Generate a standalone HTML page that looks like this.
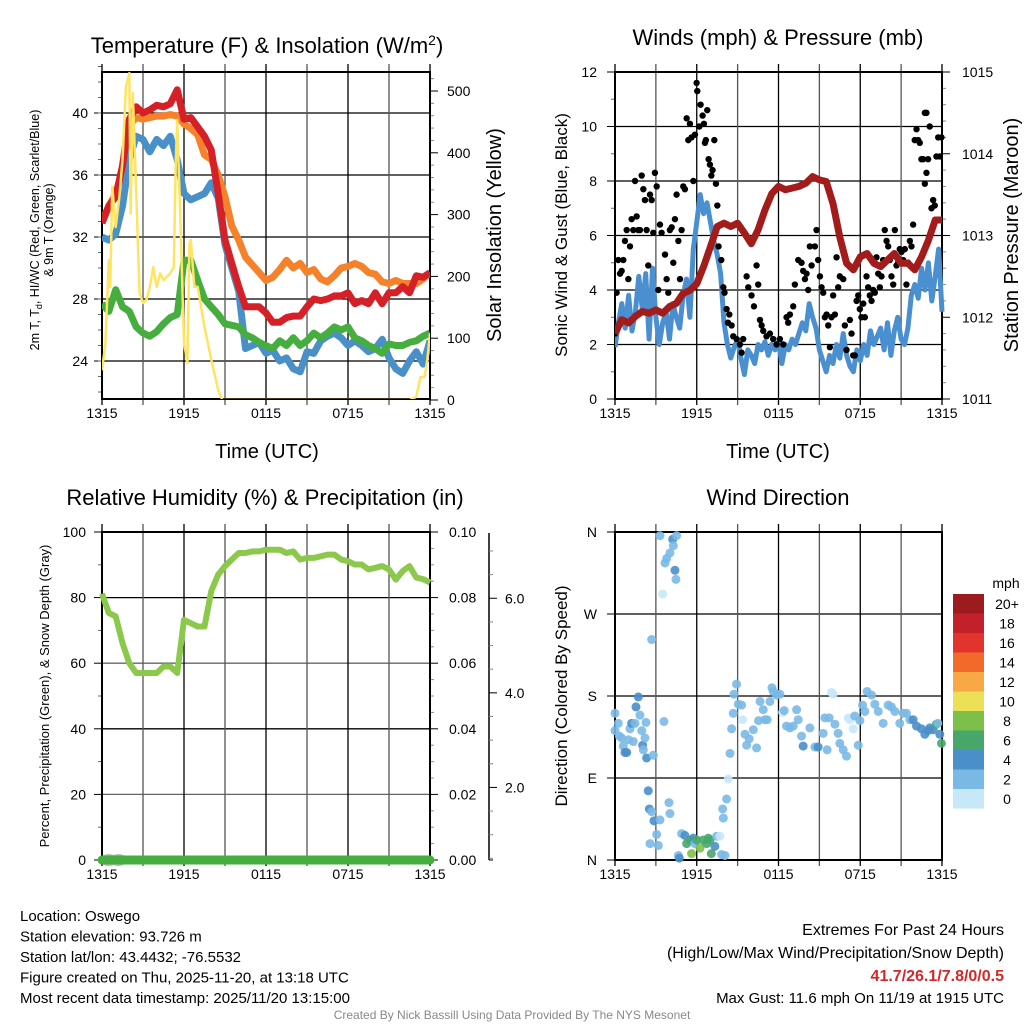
<!DOCTYPE html>
<html><head><meta charset="utf-8"><style>
body{margin:0;background:#fff;}
svg{display:block;font-family:"Liberation Sans",sans-serif;}
</style></head><body>
<svg id="c" width="1024" height="1024" viewBox="0 0 1024 1024" xmlns="http://www.w3.org/2000/svg"></svg>
<script>
// ---------- DATA ----------
const hrsHalf = Array.from({length:49},(_,i)=>i*0.5);
const hrsQuarter = Array.from({length:97},(_,i)=>i*0.25);
const xTickLabels = ["1315","1915","0115","0715","1315"];
// Panel 1 temperatures (F), half-hourly
const tempRed = [32.9,34.0,34.6,36.6,39.6,40.4,40.0,40.2,40.5,40.4,40.6,41.5,39.6,39.7,39.1,38.5,37.6,34.8,31.8,30.3,28.8,27.5,27.5,27.5,27.1,26.5,26.5,26.8,26.9,26.9,27.5,28.0,27.9,28.0,28.2,28.2,28.4,27.7,27.9,27.7,28.4,27.7,28.4,28.4,28.8,28.4,29.5,29.4,29.7];
const tempOrange = [33.0,34.0,34.8,36.3,39.2,39.7,39.6,39.7,39.8,39.8,39.9,39.8,39.3,39.0,38.6,37.3,37.0,36.0,34.6,32.7,31.8,30.7,30.2,29.7,29.2,29.4,29.9,30.5,30.0,30.3,29.7,29.9,29.3,29.1,29.5,30.0,30.1,30.3,30.1,29.7,29.6,29.1,29.0,29.2,29.0,29.0,29.0,29.3,29.7];
const tempBlue = [32.0,31.8,32.2,34.0,37.0,38.5,38.3,37.5,38.3,37.9,38.5,37.0,34.8,34.4,34.6,34.8,35.5,34.5,31.5,30.0,28.5,24.8,25.0,25.2,24.5,24.7,24.0,24.2,23.5,23.3,24.6,24.5,25.3,25.6,25.8,25.5,25.0,25.3,25.0,24.6,24.8,25.4,24.2,23.5,23.2,24.0,24.6,23.8,25.3];
const tempGreen = [27.7,27.2,28.6,27.5,27.2,26.2,25.8,25.6,25.9,26.4,26.8,27.0,30.5,30.5,29.2,28.0,27.5,27.0,26.4,26.3,26.2,25.7,25.5,25.2,25.0,24.8,25.3,25.0,25.5,25.0,25.3,25.8,25.5,25.8,26.2,26.0,26.2,25.5,25.3,25.0,24.8,24.5,25.1,25.0,25.0,25.2,25.3,25.6,25.8];
const solarT = [0,0.25,0.5,0.6,0.75,1,1.25,1.5,1.75,2,2.1,2.25,2.5,2.75,3,3.25,3.5,3.75,4,4.25,4.5,5,5.25,5.4,5.5,5.75,6,6.25,6.4,6.5,6.75,7,7.5,8,8.5,8.8,22.5,23,23.3,23.6,23.8,24];
const solarW = [48,92,226,183,345,280,324,388,506,529,302,497,335,173,157,162,183,215,183,205,194,205,215,388,453,280,92,60,254,259,183,183,118,65,16,0,0,5,37,37,65,108];
// Panel 2 winds (mph) quarter-hourly, pressure (mb) half-hourly
const windSonic = [1.9,2.8,3.5,2.6,3.8,2.5,3.2,4.5,3.3,4.6,2.2,4.8,3.0,2.0,2.8,3.2,2.2,3.5,3.0,2.6,3.8,4.4,3.0,5.5,6.5,7.5,6.8,7.2,6.5,5.8,5.3,4.6,2.8,2.0,1.5,1.9,2.2,1.5,0.9,1.8,1.6,1.3,2.0,1.8,2.1,1.6,2.0,1.8,2.1,1.3,2.0,1.8,2.2,2.0,2.4,2.8,2.5,3.5,3.0,2.6,1.8,1.4,1.0,1.6,1.3,2.0,1.5,2.4,1.6,1.2,1.0,1.8,1.4,2.0,1.6,2.5,2.0,2.3,2.6,1.8,2.8,1.6,2.5,3.0,2.2,2.0,2.6,3.8,4.2,3.7,4.8,4.0,5.0,3.6,4.5,5.5,3.2];
const pressure = [1011.80,1011.97,1011.93,1012.01,1012.07,1012.05,1012.09,1012.05,1012.13,1012.17,1012.29,1012.33,1012.41,1012.62,1012.86,1013.11,1013.15,1013.11,1013.15,1013.03,1012.90,1013.07,1013.31,1013.51,1013.60,1013.56,1013.58,1013.60,1013.64,1013.72,1013.68,1013.66,1013.39,1012.98,1012.66,1012.58,1012.74,1012.78,1012.66,1012.62,1012.70,1012.78,1012.66,1012.66,1012.58,1012.74,1012.94,1013.19,1013.19];
const gustT = [0,0.12,0.24,0.37,0.49,0.61,0.73,0.86,0.98,1.1,1.22,1.34,1.47,1.59,1.71,1.83,1.96,2.08,2.2,2.32,2.44,2.57,2.69,2.81,2.93,3.06,3.18,3.3,3.42,3.67,3.79,3.91,4.03,4.16,4.28,4.4,4.52,4.65,4.77,4.89,5.01,5.13,5.26,5.38,5.5,5.62,5.75,5.87,5.99,6.04,6.19,6.28,6.43,6.53,6.6,6.67,6.77,6.87,6.97,7.07,7.16,7.29,7.41,7.51,7.6,7.8,7.95,8.04,8.19,8.29,8.39,8.56,8.68,8.92,9.17,9.29,9.41,9.66,9.78,10.02,10.2,10.39,10.51,10.64,10.76,10.88,11.12,11.37,11.61,11.86,12.1,12.35,12.59,12.71,12.84,13.08,13.2,13.45,13.69,13.81,13.94,14.06,14.18,14.3,14.43,14.67,14.79,14.91,15.04,15.16,15.28,15.4,15.53,15.65,15.77,15.89,16.01,16.14,16.26,16.38,16.5,16.75,16.87,16.99,17.24,17.36,17.48,17.6,17.73,17.85,17.97,18.09,18.22,18.34,18.46,18.58,18.7,18.83,18.95,19.07,19.19,19.32,19.44,19.56,19.68,19.8,19.93,20.05,20.17,20.29,20.42,20.54,20.66,20.78,20.9,21.03,21.15,21.27,21.39,21.52,21.64,21.76,21.88,22.0,22.13,22.25,22.37,22.49,22.62,22.74,22.86,22.98,23.1,23.23,23.35,23.47,23.59,23.72,23.84,23.96,22.74,22.86];
const gustV = [2.4,3.9,5.1,4.6,4.7,5.1,5.8,6.2,4.4,5.6,6.6,6.2,8.0,6.7,6.2,6.2,8.2,7.7,7.3,6.2,4.9,7.5,7.3,6.1,8.3,7.8,4.0,6.4,6.1,5.3,4.4,3.9,6.2,6.3,5.0,6.6,7.5,5.8,4.4,6.2,7.8,7.7,10.3,9.5,10.1,9.6,8.0,9.7,11.6,11.3,10.0,10.8,10.4,10.1,9.4,9.5,10.6,8.8,8.6,8.2,8.4,9.5,7.9,7.1,5.6,5.1,4.1,3.9,3.3,2.8,3.1,2.7,2.3,2.2,2.0,1.7,2.2,4.5,4.1,3.8,3.4,4.9,4.2,2.9,2.7,2.5,2.3,2.4,2.2,2.0,2.2,2.0,3.0,2.8,3.1,3.4,4.2,5.1,5.0,4.7,4.4,4.6,4.0,5.6,4.9,5.6,6.2,5.1,4.5,4.1,3.9,3.0,3.1,2.7,1.9,3.0,3.8,3.1,5.2,4.1,4.5,4.4,2.7,1.8,2.9,2.4,1.6,1.6,3.6,3.8,3.3,3.0,3.5,3.0,4.5,4.1,3.8,3.6,4.0,3.9,5.2,4.6,4.1,4.5,5.1,6.2,5.8,5.6,5.1,4.5,4.2,6.2,4.9,5.0,5.5,5.4,5.1,5.5,4.2,5.0,5.8,5.6,6.4,9.5,9.9,9.5,9.4,8.8,8.8,7.9,8.3,8.8,10.0,7.0,7.3,7.1,8.9,9.6,8.9,9.6,10.5,10.5];
// Panel 3 RH (%) half-hourly
const relHum = [81.2,75.3,74.3,66.1,60.0,57.0,57.0,57.0,57.0,59.0,59.0,57.0,73.2,72.2,71.2,71.2,82.0,87.0,89.6,91.6,93.6,93.6,94.1,94.1,94.6,94.6,94.6,93.6,94.1,91.6,92.1,92.1,92.6,93.1,93.1,91.6,91.1,90.1,90.1,88.6,89.1,89.6,88.6,85.5,88.1,89.6,86.1,85.6,84.6];
const precipVals = [0,0,0,0,0,0,0,0,0,0,0,0,0,0,0,0,0,0,0,0,0,0,0,0,0,0,0,0,0,0,0,0,0,0,0,0,0,0,0,0,0,0,0,0,0,0,0,0,0];
const snowT = [0.5,1.2];
const snowV = [0,0];
// Panel 4 wind direction (deg) and speed (mph)
const dirT = [0,0,0.24,0.32,0.49,0.61,0.73,0.86,0.98,1.1,1.22,1.34,1.47,1.54,1.71,1.83,1.96,2.03,2.08,2.2,2.27,2.32,2.81,2.44,2.52,2.69,2.86,3.3,3.06,3.18,2.57,3.96,4.03,2.69,3.59,3.3,3.67,3.79,4.03,4.23,4.28,4.52,4.4,4.47,3.5,4.65,4.72,4.89,5.13,5.26,5.5,5.62,5.75,5.87,5.99,6.24,6.48,6.73,6.85,6.97,7.07,7.33,7.46,7.7,7.82,8.07,7.95,7.9,8.19,8.31,8.44,8.56,8.68,8.73,8.92,9.05,9.29,9.36,9.54,9.66,9.85,10.15,10.39,10.54,10.64,10.88,11.0,11.17,11.37,11.52,11.61,11.86,12.1,12.3,12.42,12.59,12.84,13.08,13.33,13.45,13.69,13.81,14.3,14.67,14.91,15.28,15.4,15.57,15.72,15.89,16.01,16.14,16.38,16.5,16.75,16.99,17.12,17.24,17.48,17.6,17.85,17.97,18.17,18.34,18.5,18.83,19.07,19.32,19.68,20.05,20.29,20.54,20.9,21.15,21.39,21.64,21.88,22.13,22.49,22.74,22.98,23.1,23.35,23.59,23.7,23.84,23.96];
const dirDeg = [161,142,150,136,134,125,118,118,132,144,150,130,150,168,179,159,142,126,121,134,151,112,115,76,56,53,43,44,28,16,18,63,51,242,152,356,326,331,337,352,345,356,318,308,292,5,2,29,27,18,22,7,24,18,22,13,22,18,24,22,7,15,26,26,6,5,46,56,67,89,117,144,161,182,193,171,170,154,138,126,133,143,123,153,174,165,154,154,174,189,185,181,182,162,164,147,145,147,165,154,136,125,145,124,124,139,156,121,156,184,182,149,139,128,121,114,156,154,144,158,126,153,170,163,185,181,171,163,150,170,168,163,150,161,161,154,154,147,144,138,142,145,143,149,150,138,128,156,146];
const dirSpd = [3,3,3,3,3,3,5,5,3,3,5,3,3,5,5,3,3,5,3,3,3,5,3,5,5,3,5,3,3,3,3,3,3,3,3,3,3,3,3,5,3,3,5,3,1,3,5,3,5,7,7,9,5,3,7,9,7,7,7,7,7,5,3,1,3,3,3,3,3,1,3,3,3,3,3,3,3,1,3,3,3,3,3,3,3,3,3,3,3,3,3,3,3,1,3,3,3,3,3,3,3,5,3,3,5,3,3,3,3,1,1,3,3,3,3,3,1,1,1,3,3,3,3,3,3,3,3,3,3,3,3,3,3,3,3,3,5,5,5,5,5,5,5,7,3,5,7,5];
const cbLabels = ["20+","18","16","14","12","10","8","6","4","2","0"];
const cbColors = ["#9b1b1e","#c2202a","#e0342c","#f26a2a","#f9a846","#ece057","#7cc04a","#47a76b","#4a8fc8","#7ab9e6","#c6e8f8"];

// ---------- HELPERS ----------
const NS="http://www.w3.org/2000/svg";
const svg=document.getElementById('c');
function mk(tag,attrs,parent){const e=document.createElementNS(NS,tag);for(const k in attrs)e.setAttribute(k,attrs[k]);(parent||svg).appendChild(e);return e;}
function txt(s,x,y,size,anchor,extra,parent){const e=mk('text',Object.assign({x:x,y:y,'font-size':size,'text-anchor':anchor||'middle',fill:'#000'},extra||{}),parent);e.textContent=s;return e;}
function lin(a,b,c,d,w,col,parent){return mk('line',{x1:a,y1:b,x2:c,y2:d,stroke:col||'#000','stroke-width':w||1},parent);}
function scale(d0,d1,r0,r1){return v=>r0+(v-d0)/(d1-d0)*(r1-r0);}
function pathD(xs,ys,fx,fy){return xs.map((t,i)=>(i?'L':'M')+fx(t).toFixed(1)+','+fy(ys[i]).toFixed(1)).join('');}
function frame(g,L,T,R,B,fx){
  for(let h=0;h<=24;h+=3){const x=fx(h);lin(x,T-8,x,B+6,1.3,h%6?'#555':'#000',g);}
  mk('rect',{x:L,y:T,width:R-L,height:B-T,fill:'none',stroke:'#000','stroke-width':2},g);
  xTickLabels.forEach((s,i)=>{const e=txt(s,fx(i*6),B+19,14,'middle',{},g);});
}

// ---------- PANEL 1 ----------
(function(){
 const g=mk('g',{});
 const L=102,R=430,T=72,B=399;
 const fx=scale(0,24,L,R), fy=scale(24,40,361,113), fs=scale(0,500,400,91);
 for(let v=24;v<=40;v+=4){lin(L,fy(v),R,fy(v),1.3,'#000',g);lin(L-8,fy(v),L,fy(v),1,'#000',g);txt(String(v),L-14,fy(v)+5,14,'end',{},g);}
 for(let v=22;v<=43;v+=1){lin(L-4,fy(v),L,fy(v),1,'#666',g);}
 for(let v=0;v<=520;v+=20){const y=fs(v);if(y<T-4)continue;lin(R,y,R+(v%100?4:8),y,1,v%100?'#888':'#000',g);}
 for(let v=0;v<=500;v+=100){txt(String(v),R+17,fs(v)+5,14,'start',{},g);}
 frame(g,L,T,R,B,fx);
 const cp=mk('clipPath',{id:'cp1'},g);mk('rect',{x:L,y:T-6,width:R-L,height:B-T+6},cp);
 const gg=mk('g',{'clip-path':'url(#cp1)'},g);
 const s1=mk('path',{d:pathD(hrsHalf,tempOrange,fx,fy),fill:'none',stroke:'#f5822a','stroke-width':7,'stroke-linejoin':'round'},gg);
 const s2=mk('path',{d:pathD(hrsHalf,tempBlue,fx,fy),fill:'none',stroke:'#4a90c8','stroke-width':7,'stroke-linejoin':'round'},gg);
 const s3=mk('path',{d:pathD(hrsHalf,tempRed,fx,fy),fill:'none',stroke:'#d62027','stroke-width':7,'stroke-linejoin':'round'},gg);
 const s4=mk('path',{d:pathD(hrsHalf,tempGreen,fx,fy),fill:'none',stroke:'#46ad3f','stroke-width':7,'stroke-linejoin':'round'},gg);
 const s5=mk('path',{d:pathD(solarT,solarW,fx,fs),fill:'none',stroke:'#ffe462','stroke-width':2.5,'stroke-linejoin':'round'},gg);
 const t=mk('text',{x:267,y:53,'font-size':22,'text-anchor':'middle'},g);t.innerHTML='Temperature (F) &amp; Insolation (W/m<tspan dy="-8" font-size="14">2</tspan><tspan dy="8">)</tspan>';
 
 const xl=txt('Time (UTC)',267,458,20,'middle',{},g);
 const yl=mk('text',{'font-size':12.5,'text-anchor':'middle',transform:'translate(39,230) rotate(-90)'},g);yl.innerHTML='2m T, T<tspan dy="3" font-size="9">d</tspan><tspan dy="-3">, HI/WC (Red, Green, Scarlet/Blue)</tspan>';
 
 const yl2=txt('& 9m T (Orange)',0,0,12.5,'middle',{transform:'translate(53,230) rotate(-90)'},g);
 const yr=txt('Solar Insolation (Yellow)',0,0,20,'middle',{transform:'translate(501,235) rotate(-90)'},g);
})();

// ---------- PANEL 2 ----------
(function(){
 const g=mk('g',{});
 const L=615,R=942,T=72,B=399;
 const fx=scale(0,24,L,R), fy=scale(0,12,B,T), fp=scale(1011,1015,B,T);
 for(let v=0;v<=12;v+=2){if(v>0&&v<12)lin(L,fy(v),R,fy(v),1.3,'#000',g);lin(L-8,fy(v),L,fy(v),1,'#000',g);txt(String(v),L-18,fy(v)+5,14,'end',{},g);}
 for(let v=1;v<12;v+=2){lin(L-4,fy(v),L,fy(v),1,'#666',g);}
 for(let v=1011;v<=1015.001;v+=0.2){const y=fp(v);const maj=Math.abs(v-Math.round(v))<0.01;lin(R,y,R+(maj?8:4),y,1,maj?'#000':'#888',g);}
 for(let v=1011;v<=1015;v++){txt(String(v),R+20,fp(v)+5,14,'start',{},g);}
 frame(g,L,T,R,B,fx);
 const cp=mk('clipPath',{id:'cp2'},g);mk('rect',{x:L,y:T-10,width:R-L+6,height:B-T+10},cp);
 const gg=mk('g',{'clip-path':'url(#cp2)'},g);
 const w=mk('path',{d:pathD(hrsQuarter,windSonic,fx,fy),fill:'none',stroke:'#4a90d0','stroke-width':5,'stroke-linejoin':'round'},gg);
 gustT.forEach((t,i)=>{const c=mk('circle',{cx:fx(t),cy:fy(gustV[i]),r:3.2,fill:'#000'},gg);
  
  });
 const p=mk('path',{d:pathD(hrsHalf,pressure,fx,fp),fill:'none',stroke:'#a31c1c','stroke-width':7,'stroke-linejoin':'round'},gg);
 const t=txt('Winds (mph) & Pressure (mb)',778,45,22,'middle',{},g);
 const xl=txt('Time (UTC)',778,458,20,'middle',{},g);
 const yl=txt('Sonic Wind & Gust (Blue, Black)',0,0,17,'middle',{transform:'translate(567,235) rotate(-90)'},g);
 const yr=txt('Station Pressure (Maroon)',0,0,20,'middle',{transform:'translate(1018,235) rotate(-90)'},g);
})();

// ---------- PANEL 3 ----------
(function(){
 const g=mk('g',{});
 const L=102,R=430,T=532,B=860;
 const fx=scale(0,24,L,R), fy=scale(0,100,B,T), fpr=scale(0,0.1,B,T), fsn=scale(0,7.38,882,533);
 for(let v=0;v<=100;v+=20){if(v>0&&v<100)lin(L,fy(v),R,fy(v),1.3,v%40?'#666':'#000',g);lin(L-8,fy(v),L,fy(v),1,'#000',g);txt(String(v),L-16,fy(v)+5,14,'end',{},g);}
 for(let v=10;v<100;v+=20){lin(L-4,fy(v),L,fy(v),1,'#666',g);}
 for(let v=0;v<=0.1001;v+=0.005){const y=fpr(v);const maj=Math.abs(v*50-Math.round(v*50))<0.01;lin(R,y,R+(maj?8:4),y,1,maj?'#000':'#888',g);}
 for(let v=0;v<=0.1001;v+=0.02){txt(v.toFixed(2),R+19,fpr(v)+5,14,'start',{},g);}
 lin(489,533,489,860,1.5,'#000',g);
 for(let v=0.5;v<=7.2;v+=0.5){const y=fsn(v);if(y<533||y>860)continue;lin(489,y,489+(Math.abs(v%2)<0.01?8:4),y,1,Math.abs(v%2)<0.01?'#000':'#888',g);}
 lin(489,860,493,860,1,'#000',g);
 [2,4,6].forEach(v=>txt(v.toFixed(1),505,fsn(v)+5,14,'start',{},g));
 frame(g,L,T,R,B,fx);
 snowT.forEach((t,i)=>{const e=mk('ellipse',{cx:fx(t),cy:fsn(snowV[i])-22,rx:9,ry:6,fill:'#bbb'},g);
  
  });
 const pr=mk('path',{d:pathD(hrsHalf,precipVals,fx,fpr),fill:'none',stroke:'#46ad3f','stroke-width':9,'stroke-linecap':'round'},g);
 const rh=mk('path',{d:pathD(hrsHalf,relHum,fx,fy),fill:'none',stroke:'#8cc84b','stroke-width':6,'stroke-linejoin':'round'},g);
 const t=txt('Relative Humidity (%) & Precipitation (in)',265,505,22,'middle',{},g);
 const yl=txt('Percent, Precipitation (Green), & Snow Depth (Gray)',0,0,13,'middle',{transform:'translate(49,696) rotate(-90)'},g);
})();

// ---------- PANEL 4 ----------
(function(){
 const g=mk('g',{});
 const L=615,R=942,T=532,B=860;
 const fx=scale(0,24,L,R), fy=scale(0,360,B,T);
 ["N","E","S","W","N"].forEach((s,i)=>{const y=fy(i*90);if(i>0&&i<4)lin(L,y,R,y,1.3,'#000',g);lin(L-8,y,L,y,1,'#000',g);txt(s,L-18,y+5,14,'end',{},g);});
 frame(g,L,T,R,B,fx);
 const spdCol=s=>cbColors[10-Math.min(10,Math.floor(s/2)+ (s>=20?1:0))];
 dirT.forEach((t,i)=>{const c=mk('circle',{cx:fx(t),cy:fy(dirDeg[i]),r:4.5,fill:spdCol(dirSpd[i]),'fill-opacity':0.9},g);
  
  });
 const t=txt('Wind Direction',778,505,22,'middle',{},g);
 const yl=txt('Direction (Colored By Speed)',0,0,17,'middle',{transform:'translate(567,696) rotate(-90)'},g);
 const cb=mk('g',{},g);
 txt('mph',1006,588,14,'middle',{},cb);
 cbLabels.forEach((s,i)=>{mk('rect',{x:953,y:594+i*19.5,width:31,height:19.6,fill:cbColors[i]},cb);txt(s,1007,609+i*19.5,14,'middle',{},cb);});
})();

// ---------- TEXT ----------
const info=["Location: Oswego","Station elevation: 93.726 m","Station lat/lon: 43.4432; -76.5532","Figure created on Thu, 2025-11-20, at 13:18 UTC","Most recent data timestamp: 2025/11/20 13:15:00"];
const ig=mk('g',{});
info.forEach((s,i)=>txt(s,20,921+i*20.5,15,'start',{},ig));
const eg=mk('g',{});
txt('Extremes For Past 24 Hours',1004,935,16,'end',{},eg);
txt('(High/Low/Max Wind/Precipitation/Snow Depth)',1004,958,16,'end',{},eg);
txt('41.7/26.1/7.8/0/0.5',1004,981,16,'end',{fill:'#d62728','font-weight':'bold'},eg);
txt('Max Gust: 11.6 mph On 11/19 at 1915 UTC',1004,1003,15,'end',{},eg);
const ft=txt('Created By Nick Bassill Using Data Provided By The NYS Mesonet',512,1019,12,'middle',{fill:'#888'});

</script>
</body></html>
